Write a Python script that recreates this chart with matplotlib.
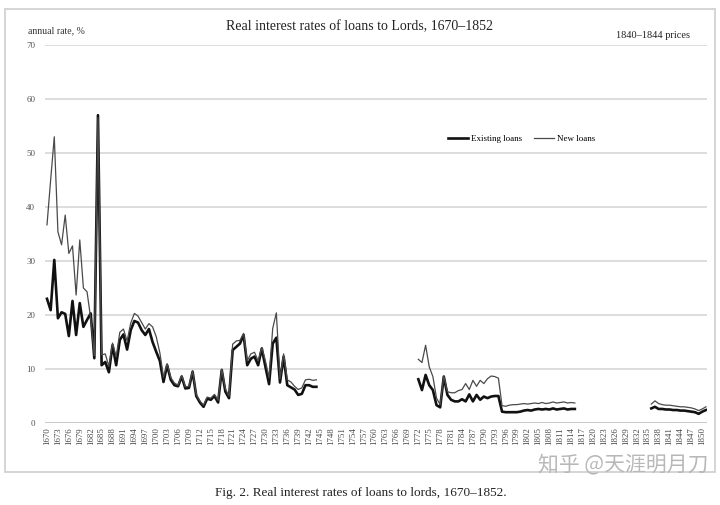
import matplotlib
matplotlib.use("Agg")
import matplotlib.pyplot as plt
from matplotlib.patches import Rectangle
import numpy as np

plt.rcParams['font.family'] = ['Liberation Serif', 'DejaVu Serif']

# ---- data ----
years1 = list(range(1670, 1745))
existing1 = [23.0, 20.9, 30.2, 19.4, 20.5, 20.2, 16.1, 22.6, 16.3, 22.2,
             17.8, 19.1, 20.3, 12.0, 57.0, 10.7, 11.3, 9.4, 14.4, 10.7,
             15.4, 16.4, 13.6, 17.2, 18.9, 18.6, 17.2, 16.3, 17.4, 15.0,
             13.2, 11.5, 7.6, 10.7, 8.0, 7.0, 6.8, 8.6, 6.4, 6.5,
             9.5, 5.0, 3.8, 3.0, 4.5, 4.3, 5.0, 3.8, 9.8, 5.8,
             4.6, 13.5, 14.1, 14.7, 16.3, 10.7, 11.9, 12.3, 10.7, 13.8,
             10.4, 7.2, 14.7, 15.8, 7.5, 12.3, 7.0, 6.6, 6.2, 5.2,
             5.4, 7.0, 7.0, 6.7, 6.7]
new1 = [36.7, 45.0, 53.0, 35.4, 33.0, 38.5, 31.4, 32.8, 23.7, 33.9,
        25.0, 24.3, 19.4, 12.5, 56.5, 12.6, 12.8, 10.5, 14.8, 12.3,
        16.8, 17.4, 15.2, 18.5, 20.3, 19.8, 18.6, 17.4, 18.4, 17.8,
        16.0, 13.0, 8.5, 11.0, 8.4, 7.4, 7.0, 8.8, 6.7, 6.8,
        9.7, 5.3, 4.1, 3.3, 4.8, 4.6, 5.3, 4.2, 10.0, 6.3,
        5.0, 14.6, 15.2, 15.3, 16.6, 11.5, 12.8, 13.1, 11.5, 14.0,
        11.5, 8.4, 17.5, 20.4, 8.2, 12.8, 8.0, 7.6, 6.8, 6.2,
        6.5, 8.0, 8.1, 7.9, 8.0]

years2 = list(range(1772, 1816))
existing2 = [8.1, 6.1, 8.9, 7.0, 6.1, 3.3, 2.9, 8.6, 5.2, 4.3,
             4.0, 4.0, 4.4, 4.0, 5.3, 4.0, 5.2, 4.3, 4.9, 4.6,
             4.9, 5.0, 5.0, 2.1, 2.0, 2.0, 2.0, 2.0, 2.1, 2.3,
             2.4, 2.3, 2.5, 2.6, 2.5, 2.6, 2.5, 2.7, 2.5, 2.6,
             2.7, 2.5, 2.6, 2.6]
new2 = [11.8, 11.2, 14.4, 10.4, 8.6, 4.6, 3.4, 8.7, 5.8, 5.6,
        5.6, 6.0, 6.2, 7.3, 6.2, 7.9, 6.8, 7.9, 7.3, 8.2,
        8.7, 8.6, 8.3, 3.2, 3.1, 3.3, 3.4, 3.4, 3.5, 3.6,
        3.5, 3.6, 3.7, 3.6, 3.8, 3.6, 3.7, 3.9, 3.7, 3.8,
        3.9, 3.7, 3.8, 3.7]

years3 = list(range(1836, 1852))
existing3 = [2.7, 3.0, 2.6, 2.6, 2.5, 2.5, 2.4, 2.4, 2.3, 2.3, 2.2, 2.1, 2.0, 1.7, 2.1, 2.4]
new3 = [3.5, 4.1, 3.6, 3.4, 3.3, 3.3, 3.2, 3.1, 3.0, 3.0, 2.9, 2.8, 2.6, 2.3, 2.6, 3.0]

tick_years = list(range(1670, 1851, 3))
y_ticks = [0, 10, 20, 30, 40, 50, 60, 70]

# ---- figure ----
W, H = 720, 505
fig = plt.figure(figsize=(W / 100, H / 100), dpi=100)
fig.patch.set_facecolor('white')

# outer frame
fig.patches.append(Rectangle((5 / W, 1 - 472 / H), 710 / W, 463 / H,
                             transform=fig.transFigure, fill=False,
                             edgecolor='#d2d2d2', lw=1.3))

ax = fig.add_axes([45 / W, 1 - 423 / H, 662 / W, 378 / H])
ax.set_ylim(0, 70)
ax.set_xlim(1669.45, 1851.3)

for y in y_ticks:
    ax.axhline(y, color='#c4c4c4' if y == 0 else '#dadada', lw=1.3, zorder=0)

for yrs, ex, nw in [(years1, existing1, new1), (years2, existing2, new2), (years3, existing3, new3)]:
    ax.plot(yrs, nw, color='#4a4a4a', lw=0.9, zorder=3)
    ax.plot(yrs, ex, color='#111111', lw=1.9, zorder=2)

for s in ax.spines.values():
    s.set_visible(False)

ax.set_yticks(y_ticks)
ax.set_yticklabels([str(v) for v in y_ticks], fontsize=6.5, color='#555555')
ax.set_xticks(tick_years)
ax.set_xticklabels([str(v) for v in tick_years], rotation=90, fontsize=6.3, color='#444444')
ax.tick_params(axis='both', length=0)
ax.tick_params(axis='y', pad=7)
ax.tick_params(axis='x', pad=3)

# legend
from matplotlib.lines import Line2D
handles = [Line2D([], [], color='#111111', lw=1.9), Line2D([], [], color='#4a4a4a', lw=0.9)]
ax.legend(handles, ['Existing loans', 'New loans'], loc='upper left',
          bbox_to_anchor=(395 / 662, 1 - 82 / 378), ncol=2, frameon=False,
          fontsize=6.5, handlelength=2.2, handletextpad=0.3, columnspacing=1.4)

# texts
fig.text(360 / W, 1 - 27 / H, 'Real interest rates of loans to Lords, 1670\u20131852',
         ha='center', va='center', fontsize=10, color='#222222')
fig.text(28 / W, 1 - 31 / H, 'annual rate, %', ha='left', va='center', fontsize=7, color='#333333')
fig.text(690 / W, 1 - 36 / H, '1840\u20131844 prices', ha='right', va='center', fontsize=7.5, color='#222222')
fig.text(361 / W, 1 - 493 / H, 'Fig. 2. Real interest rates of loans to lords, 1670\u20131852.',
         ha='center', va='center', fontsize=9.5, color='#222222')
fig.text(708 / W, 1 - 464 / H, '知乎 @天涯明月刀', ha='right', va='center', fontsize=15,
         color='#b8b8b8', family=['Noto Sans CJK SC', 'DejaVu Sans'])

fig.savefig('out.png', dpi=100, facecolor='white')
